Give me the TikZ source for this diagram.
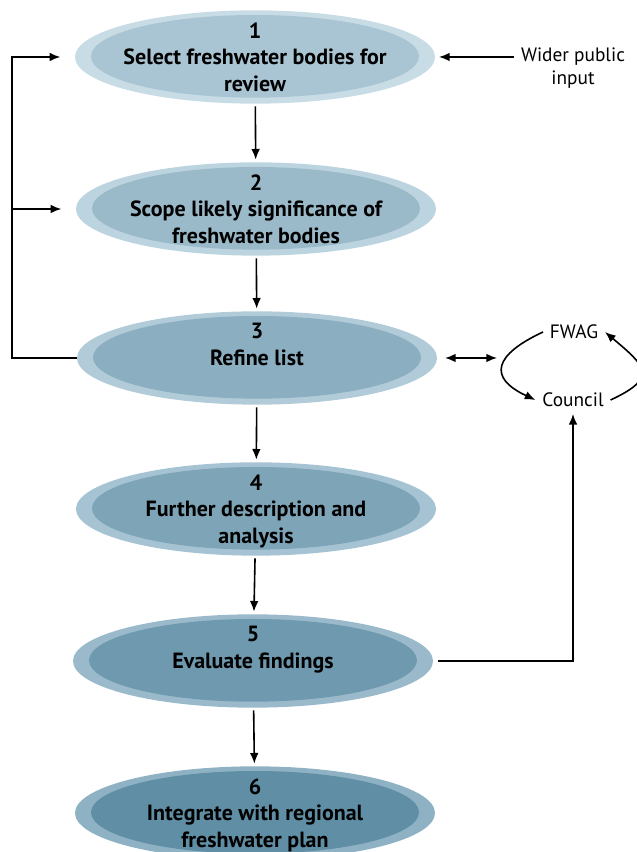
\documentclass[tikz,border=0pt]{standalone}
\usepackage{fontspec}
\setmainfont{PT Sans}
\usetikzlibrary{shapes.geometric,arrows.meta}

\definecolor{outA}{HTML}{C8DCE6}
\definecolor{outB}{HTML}{8EB2C4}
\definecolor{inA}{HTML}{A9C5D3}
\definecolor{inB}{HTML}{5F8EA5}

\tikzset{
  stage/.style={ellipse, draw=none, inner sep=0pt, outer sep=0pt,
    minimum width=270pt, minimum height=70pt, fill=outB!#1!outA,
    path picture={\fill[inB!#1!inA] ([yshift=0.5pt]path picture bounding box.center)
      ellipse [x radius=123pt, y radius=31pt];}},
  stagetext/.style={align=center, anchor=north, inner sep=0pt,
    font=\bfseries\fontsize{16.5}{20}\selectfont},
  side/.style={align=center, inner sep=5pt, font=\fontsize{14.5}{17}\selectfont},
  link/.style={line width=1.2pt, -{Latex[length=8pt,width=6.5pt]}}
}

\begin{document}
\begin{tikzpicture}[x=0.75pt, y=0.75pt]
\useasboundingbox (0,0) rectangle (636,852);

% the six stages
\node[stage=0]   (s1) at (255,795) {};
\node[stage=20]  (s2) at (256,643) {};
\node[stage=40]  (s3) at (257,494) {};
\node[stage=60]  (s4) at (256,343) {};
\node[stage=80]  (s5) at (253,191) {};
\node[stage=100] (s6) at (255,39) {};

\node[stagetext] (t1) at ([yshift=26pt]s1.center) {1\\Select freshwater bodies for\\review};
\node[stagetext] (t2) at ([yshift=26pt]s2.center) {2\\Scope likely significance of\\freshwater bodies};
\node[stagetext] (t3) at ([yshift=26pt]s3.center) {3\\Refine list};
\node[stagetext] (t4) at ([yshift=26pt]s4.center) {4\\Further description and\\analysis};
\node[stagetext] (t5) at ([yshift=26pt]s5.center) {5\\Evaluate findings};
\node[stagetext] (t6) at ([yshift=26pt]s6.center) {6\\Integrate with regional\\freshwater plan};

% side texts
\node[side] (pub) at (573,784) {Wider public\\input};
\node[side] (fwag) at (574,520) {FWAG};
\node[side] (council) at (573,452) {Council};

\coordinate (lp) at (12,0);
\coordinate (cyc) at (497,494);

% down the chain
\draw[link, shorten <=2pt, shorten >=2pt] (s1) -- (s2);
\draw[link, shorten <=2pt, shorten >=2pt] (s2) -- (s3);
\draw[link, shorten <=2pt, shorten >=2pt] (s3) -- (s4);
\draw[link, shorten <=2pt, shorten >=2pt] (s4) -- (s5);
\draw[link, shorten <=2pt, shorten >=2pt] (s5) -- (s6);

% feedback on the left
\draw[link] (s3.west) -- (s3.west -| lp) |- ([xshift=-11]s1.west);
\draw[link] (s2.west -| lp) -- ([xshift=-11]s2.west);

% public input
\draw[link, shorten >=3pt] (pub.west |- s1.east) -- (s1.east);

% FWAG and Council
\draw[line width=1.2pt, {Latex[length=8pt,width=6.5pt]}-{Latex[length=8pt,width=6.5pt]}, shorten <=6pt] (s3.east) -- (cyc);
\draw[link] (fwag.west) to[out=205, in=155, looseness=2] (council.west);
\draw[link] (council.east) to[out=25, in=-40, looseness=2] (fwag.east);
\draw[link, shorten <=4pt] (s5.east) -| (council.south);

\end{tikzpicture}
\end{document}
